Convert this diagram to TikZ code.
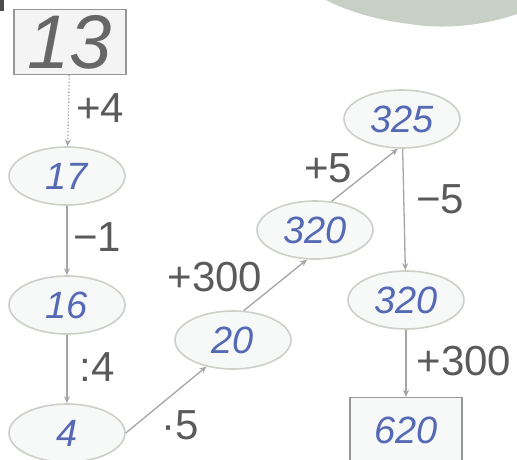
\documentclass[tikz,border=0pt]{standalone}
\usepackage{fontspec}
\setmainfont{Liberation Sans}
\usetikzlibrary{shapes.geometric,arrows.meta}
\definecolor{edgegray}{RGB}{165,165,165}
\definecolor{ovalline}{RGB}{205,207,200}
\definecolor{ovalfill}{RGB}{246,249,247}
\definecolor{boxline}{RGB}{150,150,150}
\definecolor{boxfill}{RGB}{243,244,243}
\definecolor{handblue}{RGB}{85,105,180}
\definecolor{labelgray}{RGB}{90,90,90}
\definecolor{blobfill}{RGB}{200,207,197}
\tikzset{
  oval/.style={ellipse, draw=ovalline, line width=1.6pt, fill=ovalfill,
    minimum width=116pt, minimum height=58pt, inner sep=0pt,
    text=handblue, font=\fontsize{38}{38}\selectfont\itshape},
  numbox/.style={rectangle, draw=boxline, line width=1.2pt, fill=boxfill,
    minimum width=112pt, minimum height=65pt, inner sep=0pt},
  conn/.style={draw=edgegray, line width=1.3pt, -{Stealth[length=7pt,width=6pt]}},
  oplabel/.style={text=labelgray, font=\fontsize{42}{42}\selectfont, inner sep=0pt}
}
\begin{document}
\begin{tikzpicture}[x=1pt,y=-1pt]
\useasboundingbox (0,0) rectangle (517,459);
\clip (0,0) rectangle (517,459);
% decorative blob top right
\fill[blobfill] (326,0) .. controls (345,10) and (375,20) .. (410,24)
  .. controls (440,29) and (480,27) .. (517,14) -- (517,0) -- cycle;
\fill[black!70] (0,0) rectangle (4,11);
% nodes
\node[numbox, text=black!60, font=\fontsize{76}{76}\selectfont\itshape] (n13) at (70,42) {13};
\node[oval] (n17) at (67,176) {17};
\node[oval] (n16) at (67,305) {16};
\node[oval] (n4) at (67,433) {4};
\node[oval] (n20) at (233,340) {20};
\node[oval] (n320a) at (315,230) {320};
\node[oval] (n325) at (402,119) {325};
\node[oval] (n320b) at (406,300) {320};
\node[numbox, fill=ovalfill, text=handblue, font=\fontsize{38}{38}\selectfont\itshape] (n620) at (406,430) {620};
% connectors
\draw[conn, dotted] (n13) -- (n17);
\draw[conn] (n17) -- (n16);
\draw[conn] (n16) -- (n4);
\draw[conn] (n4.east) -- (n20.225);
\draw[conn] (n20.70) -- (n320a.255);
\draw[conn] (n320a.60) -- (n325.262);
\draw[conn] (n325) -- (n320b);
\draw[conn] (n320b) -- (n620);
% labels
\node[oplabel] (l1) at (100,108) {+4};
\node[oplabel] (l2) at (97,237) {−1};
\node[oplabel] (l3) at (97,367) {:4};
\node[oplabel] (l4) at (180,425) {·5};
\node[oplabel] (l5) at (215,277) {+300};
\node[oplabel] (l6) at (328,168) {+5};
\node[oplabel] (l7) at (440,199) {−5};
\node[oplabel] (l8) at (464,361) {+300};
\end{tikzpicture}
\end{document}
